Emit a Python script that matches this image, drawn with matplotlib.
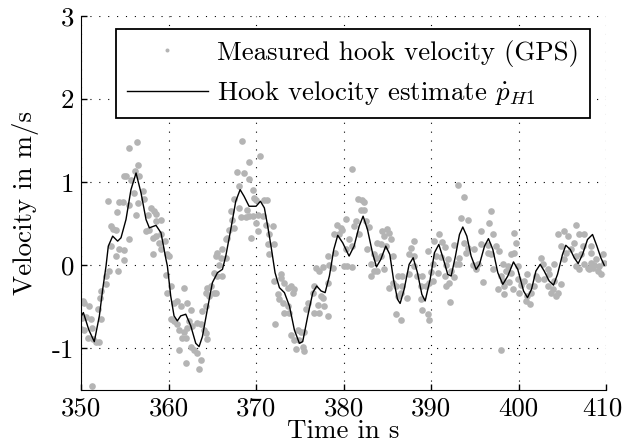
import numpy as np
import matplotlib
matplotlib.use('Agg')
import matplotlib.pyplot as plt
import matplotlib.transforms as mtransforms

plt.rcParams['font.family'] = 'cmr10'
plt.rcParams['mathtext.fontset'] = 'cm'
plt.rcParams['axes.unicode_minus'] = False
plt.rcParams['font.size'] = 19.4

# Hook velocity estimate
est_t = [350.0, 350.27, 350.9, 351.52, 352.10, 352.48, 352.86, 353.12, 353.62, 354.19,
         354.57, 355.14, 355.71, 356.29, 356.86, 357.43, 357.81, 358.57, 359.14, 359.71,
         359.87, 360.25, 360.63, 361.01, 361.39, 361.97, 362.54, 363.11, 363.49, 363.87,
         364.44, 365.01, 365.59, 366.16, 366.54, 367.11, 367.68, 368.18, 368.63, 369.20,
         370.00, 370.50, 370.95, 371.33, 371.71, 372.17, 372.67, 373.24, 373.81, 374.38,
         374.95, 375.33, 375.91, 376.48, 376.93, 377.43, 377.89, 378.38, 378.88, 379.33,
         379.90, 380.63, 381.20, 381.78, 382.23, 382.73, 383.30, 383.76, 384.25, 384.82,
         385.28, 385.70, 386.16, 386.46, 386.92, 387.49, 387.95, 388.44, 388.94, 389.32,
         389.89, 390.38, 390.88, 391.41, 391.90, 392.29, 392.78, 393.24, 393.62, 394.08,
         394.57, 395.14, 395.52, 396.10, 396.55, 397.05, 397.62, 398.19, 398.76, 399.41,
         399.90, 400.56, 401.01, 401.47, 401.97, 402.46, 402.92, 403.49, 403.98, 404.44,
         405.01, 405.39, 405.89, 406.35, 406.80, 407.30, 407.87, 408.44, 408.94, 409.39,
         409.78]
est_v = [-0.62, -0.57, -0.78, -0.92, -0.61, -0.29, -0.01, 0.23, 0.35, 0.29,
         0.33, 0.55, 0.91, 1.11, 0.87, 0.55, 0.45, 0.48, 0.39, 0.07,
         -0.01, -0.37, -0.61, -0.67, -0.61, -0.59, -0.73, -0.94, -0.98, -0.86,
         -0.53, -0.21, -0.09, -0.05, 0.11, 0.43, 0.77, 0.91, 0.83, 0.71,
         0.71, 0.77, 0.69, 0.47, 0.23, -0.09, -0.27, -0.33, -0.49, -0.78,
         -0.94, -0.92, -0.61, -0.33, -0.25, -0.31, -0.33, -0.13, 0.19, 0.36,
         0.27, 0.11, 0.23, 0.47, 0.59, 0.43, 0.15, -0.02, 0.07, 0.23,
         0.13, -0.17, -0.41, -0.46, -0.29, 0.01, 0.09, -0.09, -0.35, -0.43,
         -0.17, 0.15, 0.25, 0.07, -0.11, -0.13, 0.11, 0.37, 0.46, 0.35,
         0.11, -0.05, 0.01, 0.23, 0.32, 0.19, -0.09, -0.23, -0.13, 0.04,
         -0.05, -0.31, -0.39, -0.29, -0.07, 0.01, -0.07, -0.19, -0.24, -0.11,
         0.13, 0.24, 0.19, 0.09, 0.02, 0.13, 0.31, 0.37, 0.23, 0.09,
         0.00]

# Measured hook velocity (GPS)
gps_t = [355.53, 356.40, 356.48, 355.14, 354.95, 355.72, 356.21, 356.67, 357.05, 356.10,
         353.05, 354.31, 354.76, 357.24, 356.48, 355.53, 358.00, 358.38, 358.57, 357.62,
         356.29, 354.08, 359.14, 358.57, 353.43, 353.70, 354.00, 357.81, 357.43, 358.19,
         358.57, 359.14, 355.53, 358.95, 353.43, 354.38, 354.95, 359.14, 354.00, 354.95,
         358.19, 353.24, 354.19, 352.86, 352.86, 352.29, 352.17, 350.19, 350.38, 350.95,
         350.12, 350.57, 351.14, 351.91, 352.29, 351.26, 350.00, 350.38, 350.76, 351.33,
         351.72, 352.02, 351.26,
         368.37, 369.20, 367.79, 368.63, 369.20, 368.06, 367.49, 368.06, 369.01, 367.11,
         367.30, 368.25, 368.82, 369.20, 366.92, 367.49, 369.39, 366.73, 366.54, 366.16,
         365.59, 365.39, 365.97, 366.54, 365.78, 365.20, 365.59, 366.16, 364.82, 364.44,
         365.20, 364.25, 364.63, 365.39, 359.60, 359.87, 360.06, 359.68, 360.25, 359.87,
         361.01, 361.47, 362.16, 361.78, 360.63, 364.25, 363.87, 362.54, 360.25, 360.63,
         361.01, 362.35, 362.73, 363.30, 363.68, 361.20, 361.78, 362.16, 364.06, 364.25,
         361.59, 361.97, 362.54, 362.92, 363.30, 364.44, 361.20, 363.68, 361.97, 363.49,
         370.50, 369.62, 369.81, 370.00, 370.95, 371.26, 370.19, 369.62, 370.76, 371.14,
         370.00, 371.91, 370.19, 371.53, 371.33, 372.10, 371.53, 372.86, 376.86, 377.24,
         378.38, 377.62, 372.86, 372.10, 373.24, 374.00, 373.62, 374.38, 372.48, 374.19,
         376.67, 376.48, 378.19, 377.43, 377.62, 372.67, 373.05, 373.62, 373.24, 373.81,
         377.05, 375.91, 375.72, 377.81, 376.67, 377.24, 378.19, 374.76, 375.14, 375.53,
         374.00, 374.38, 374.95, 375.33, 374.57, 375.53, 372.17, 379.26, 378.95, 378.19,
         379.07, 378.76,
         381.01, 381.70, 382.16, 382.35, 381.97, 382.35, 380.25, 381.39, 382.54, 381.20,
         382.92, 379.68, 379.87, 379.49, 381.78, 380.63, 384.44, 385.01, 385.20, 384.63,
         385.39, 383.87, 384.25, 384.82, 382.73, 381.01, 380.25, 383.49, 383.68, 385.59,
         384.25, 380.06, 380.44, 381.01, 383.11, 384.63, 383.49, 383.87, 383.11, 386.16,
         386.73, 385.20, 385.59, 385.97, 386.73, 386.54, 387.30, 386.16, 388.06, 387.68,
         387.49, 388.06, 388.06, 387.49, 388.44, 389.01, 388.82, 388.82, 389.01, 386.04,
         386.54,
         393.05, 393.73, 396.86, 393.43, 394.19, 396.59, 395.72, 397.05, 390.95, 390.38,
         391.26, 392.67, 393.81, 394.19, 395.72, 396.48, 397.43, 391.64, 394.95, 389.62,
         390.57, 391.14, 391.91, 393.24, 394.00, 396.48, 396.86, 397.81, 399.14, 390.19,
         392.86, 393.24, 391.72, 394.76, 395.33, 398.19, 398.76, 390.00, 390.76, 392.29,
         395.14, 397.05, 398.57, 399.14, 391.53, 392.67, 398.00, 390.19, 389.81, 392.10,
         395.91, 398.19, 398.95, 391.72, 389.43, 397.62, 398.38, 399.33, 398.38, 392.17,
         389.62, 389.81, 398.00,
         406.54, 405.20, 404.44, 406.92, 407.49, 405.59, 404.82, 406.35, 407.30, 408.25,
         405.97, 399.49, 399.68, 399.49, 405.39, 406.54, 407.11, 408.25, 409.59, 402.54,
         399.87, 402.73, 403.30, 404.06, 405.20, 406.54, 406.92, 407.49, 407.87, 408.25,
         408.82, 409.20, 409.78, 409.01, 409.39, 401.01, 401.97, 403.49, 399.87, 400.63,
         402.16, 402.92, 404.06, 404.82, 400.25, 401.20, 401.78, 403.30, 403.87, 400.06,
         401.39, 403.68, 404.44, 404.25, 401.01, 400.82, 401.33, 408.06, 408.44, 408.63]
gps_v = [1.41, 1.48, 1.21, 1.08, 1.08, 1.03, 1.14, 1.07, 0.89, 0.87,
         0.77, 0.76, 0.76, 0.80, 0.75, 0.72, 0.69, 0.65, 0.62, 0.60,
         0.60, 0.64, 0.54, 0.53, 0.47, 0.44, 0.42, 0.42, 0.41, 0.33,
         0.35, 0.37, 0.31, 0.27, 0.23, 0.19, 0.18, 0.19, 0.11, 0.06,
         0.13, -0.07, -0.07, -0.13, -0.23, -0.31, -0.39, -0.43, -0.45, -0.49,
         -0.63, -0.62, -0.65, -0.53, -0.65, -0.76, -0.77, -0.78, -0.88, -0.89,
         -0.92, -0.92, -1.46,
         1.50, 1.24, 1.12, 1.11, 1.04, 0.95, 0.80, 0.69, 0.67, 0.65,
         0.55, 0.58, 0.58, 0.59, 0.43, 0.45, 0.33, 0.33, 0.31, 0.19,
         0.15, 0.11, 0.09, 0.09, 0.00, -0.09, -0.13, -0.13, -0.25, -0.27,
         -0.33, -0.33, -0.37, -0.34, 0.29, 0.13, 0.11, -0.12, -0.25, -0.33,
         -0.43, -0.49, -0.45, -0.28, -0.45, -0.49, -0.55, -0.54, -0.65, -0.67,
         -0.71, -0.67, -0.73, -0.69, -0.71, -0.78, -0.80, -0.76, -0.78, -0.82,
         -0.88, -0.88, -0.98, -1.02, -1.06, -0.89, -1.02, -1.14, -1.18, -1.25,
         1.32, 0.91, 0.81, 0.79, 0.78, 0.78, 0.61, 0.59, 0.59, 0.49,
         0.51, 0.47, 0.41, 0.38, 0.26, 0.25, 0.13, -0.10, -0.03, -0.07,
         0.00, -0.02, -0.15, -0.19, -0.22, -0.25, -0.27, -0.29, -0.35, -0.34,
         -0.25, -0.33, -0.21, -0.37, -0.39, -0.41, -0.45, -0.49, -0.57, -0.57,
         -0.48, -0.45, -0.53, -0.49, -0.57, -0.57, -0.61, -0.78, -0.80, -0.81,
         -0.84, -0.90, -0.90, -0.98, -1.01, -1.03, -0.71, 0.49, 0.37, 0.11,
         0.15, -0.03,
         1.16, 0.80, 0.79, 0.76, 0.67, 0.66, 0.56, 0.53, 0.53, 0.47,
         0.46, 0.45, 0.43, 0.37, 0.37, 0.31, 0.41, 0.44, 0.39, 0.35,
         0.31, 0.27, 0.25, 0.23, 0.19, 0.23, 0.19, 0.13, 0.09, 0.11,
         0.11, -0.01, -0.01, -0.02, 0.01, -0.04, -0.07, -0.07, -0.13, -0.13,
         -0.13, -0.27, -0.21, -0.25, -0.25, -0.33, -0.39, -0.37, 0.29, 0.21,
         0.13, 0.11, -0.01, -0.11, -0.13, -0.13, -0.25, -0.41, -0.54, -0.59,
         -0.66,
         0.97, 0.82, 0.65, 0.57, 0.54, 0.51, 0.41, 0.37, 0.37, 0.29,
         0.28, 0.24, 0.27, 0.21, 0.26, 0.24, 0.23, 0.22, 0.19, 0.17,
         0.11, 0.10, 0.07, 0.09, 0.15, 0.15, 0.14, 0.17, 0.13, 0.02,
         0.01, 0.01, 0.00, 0.00, 0.01, 0.01, -0.01, -0.08, -0.09, -0.07,
         -0.05, -0.05, -0.07, -0.09, -0.13, -0.14, -0.13, -0.19, -0.21, -0.21,
         -0.20, -0.19, -0.20, -0.25, -0.25, -0.29, -0.25, -0.29, -0.35, -0.44,
         -0.59, -0.66, -1.02,
         0.48, 0.41, 0.38, 0.37, 0.37, 0.35, 0.23, 0.27, 0.23, 0.23,
         0.19, 0.39, 0.27, 0.15, 0.15, 0.11, 0.13, 0.15, 0.13, 0.09,
         -0.01, 0.02, -0.05, 0.02, 0.08, -0.01, -0.04, 0.01, -0.03, 0.03,
         0.07, -0.01, 0.03, -0.07, -0.10, -0.11, -0.13, -0.11, -0.17, -0.19,
         -0.17, -0.17, -0.19, -0.23, -0.24, -0.25, -0.25, -0.25, -0.29, -0.33,
         -0.33, -0.33, -0.34, -0.37, -0.37, -0.43, -0.47, -0.05, -0.03, 0.00]

fig = plt.figure(figsize=(6.23, 4.46), dpi=100)
ax = fig.add_axes([0.130, 0.126, 0.843, 0.838])

ax.plot(gps_t, gps_v, 'o', color='#b4b4b4', ms=4.8, mec='none', zorder=2,
        label='Measured hook velocity (GPS)')
ax.plot(est_t, est_v, '-', color='black', lw=1.0, zorder=3,
        label=r'Hook velocity estimate $\dot{p}_{H1}$')

ax.set_xlim(350, 410)
ax.set_ylim(-1.5, 3)
ax.set_xticks([350, 360, 370, 380, 390, 400, 410])
ax.set_yticks([-1, 0, 1, 2, 3])
ax.grid(True, color='black', linestyle=(0, (1, 7)), linewidth=0.8)
ax.spines['top'].set_visible(False)
ax.spines['right'].set_visible(False)
ax.tick_params(direction='in', length=4, width=1, pad=5)
ax.set_xlabel('Time in s', labelpad=-1)
ax.set_ylabel('Velocity in m/s', labelpad=9)

# nudge the last x tick label so it stays inside the figure
last = ax.get_xticklabels()[-1]
last.set_transform(last.get_transform() +
                   mtransforms.ScaledTranslation(-4 / 100, 0, fig.dpi_scale_trans))

leg = ax.legend(loc='upper left', bbox_to_anchor=(0.067, 0.965), borderaxespad=0,
                fancybox=False, edgecolor='black', framealpha=1, handlelength=3.0,
                handletextpad=0.35, markerscale=0.6, borderpad=0.4, labelspacing=0.45)
leg.get_frame().set_linewidth(1.3)

fig.savefig('out.png', dpi=100)
